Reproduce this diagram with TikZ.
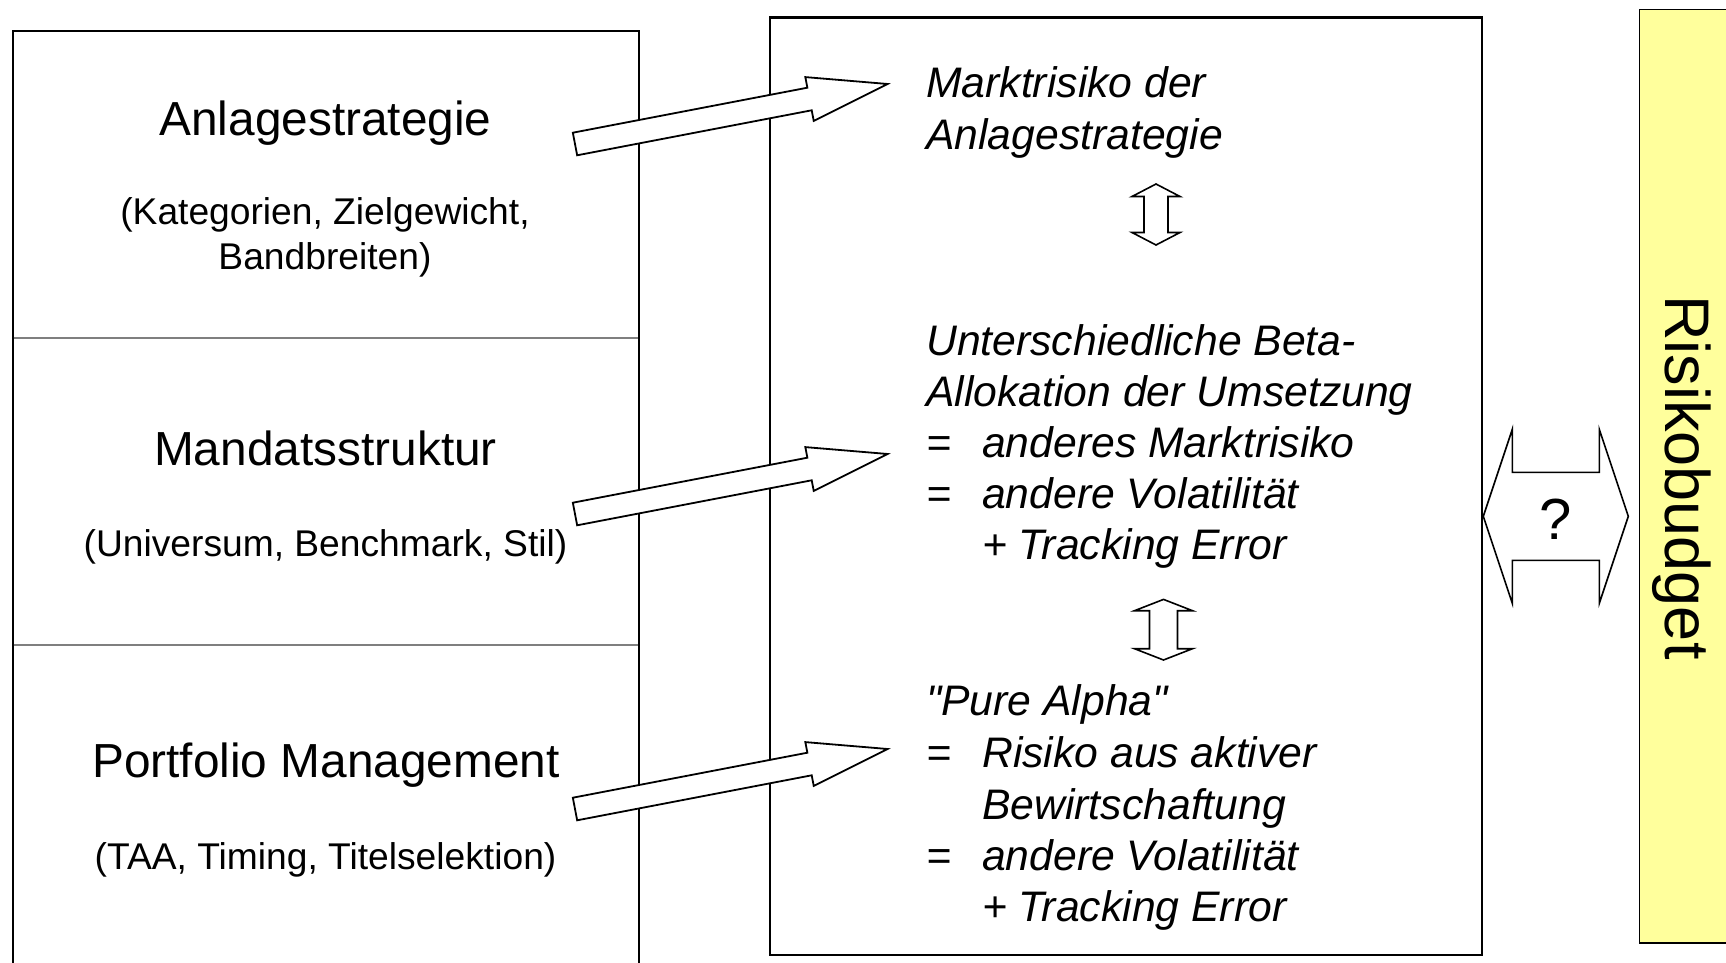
\documentclass[tikz,border=0pt]{standalone}
\usepackage{fontspec}
\setmainfont{Liberation Sans}[Ligatures=TeXOff]
\usetikzlibrary{calc}
\definecolor{budgetyellow}{HTML}{FFFF9C}
\definecolor{dividergray}{HTML}{7F7F7F}

% wide hollow arrow from a tail point to a tip point
\newcommand{\hollowarrow}[2]{%
  \coordinate (ha-m) at ($(#1)!0.75!(#2)$);
  \draw[barrow] ($(#1)!11.5pt!90:(#2)$) -- ($(ha-m)!11.5pt!90:(#2)$)
    -- ($(ha-m)!22.3pt!90:(#2)$) -- (#2) -- ($(ha-m)!22.3pt!-90:(#2)$)
    -- ($(ha-m)!11.5pt!-90:(#2)$) -- ($(#1)!11.5pt!-90:(#2)$) -- cycle;
}

\begin{document}
\begin{tikzpicture}[x=1pt,y=-1pt,
  frame/.style={draw=black, line width=2pt},
  divider/.style={draw=dividergray, line width=1.5pt},
  title/.style={font=\fontsize{47.8}{57}\selectfont, inner sep=0pt, anchor=base},
  sub/.style={font=\fontsize{37.2}{44}\selectfont, inner sep=0pt, anchor=base},
  riskline/.style={font=\fontsize{42.7}{51}\selectfont\itshape, inner sep=0pt, anchor=base west},
  barrow/.style={draw=black, fill=white, line width=1.8pt, line join=miter},
  dblarrow/.style={draw=black, fill=white, line width=1.6pt, line join=miter},
]
\useasboundingbox (0,0) rectangle (1726,963);
\clip (0,0) rectangle (1726,963);
\fill[white] (0,0) rectangle (1726,963);

% left column: strategy levels
\draw[frame] (12.5,980) -- (12.5,31) -- (638.5,31) -- (638.5,980);
\draw[divider] (13.5,338) -- (637.5,338);
\draw[divider] (13.5,645) -- (637.5,645);

\node[title] (strat) at (325.5,135.7) {Anlagestrategie};
\node[sub] (stratA) at (325,224.5) {(Kategorien, Zielgewicht,};
\node[sub] (stratB) at (325,269.5) {Bandbreiten)};

\node[title] (mand) at (325.5,465.6) {Mandatsstruktur};
\node[sub] (mandA) at (325.5,556) {(Universum, Benchmark, Stil)};

\node[title] (pm) at (326,777) {Portfolio Management};
\node[sub] (pmA) at (325.5,869.6) {(TAA, Timing, Titelselektion)};

% middle column: risk sources
\node[draw=black, line width=2.2pt, fill=white, inner sep=0pt, anchor=north west,
      minimum width=712pt, minimum height=937pt] (midbox) at (768.5,16.5) {};

\node[riskline] (r1a) at (926,98) {Marktrisiko der};
\node[riskline] (r1b) at (926,149.5) {Anlagestrategie};

\node[riskline] (r2a) at (926,355.5) {Unterschiedliche Beta-};
\node[riskline] (r2b) at (926,406.5) {Allokation der Umsetzung};
\node[riskline] (r2c) at (926,457.5) {=};
\node[riskline] (r2cc) at (982,457.5) {anderes Marktrisiko};
\node[riskline] (r2d) at (926,508.5) {=};
\node[riskline] (r2dd) at (982,508.5) {andere Volatilität};
\node[riskline] (r2e) at (982,559.5) {+ Tracking Error};

\node[riskline] (r3a) at (926,715.5) {"Pure Alpha"};
\node[riskline] (r3b) at (926,767) {=};
\node[riskline] (r3bb) at (982,767) {Risiko aus aktiver};
\node[riskline] (r3c) at (982,819) {Bewirtschaftung};
\node[riskline] (r3d) at (926,870.5) {=};
\node[riskline] (r3dd) at (982,870.5) {andere Volatilität};
\node[riskline] (r3e) at (982,921.5) {+ Tracking Error};

% arrows from the levels to their risk sources
\coordinate (a1s) at (575,144);   \coordinate (a1e) at (887.7,84);
\coordinate (a2s) at (575,514);   \coordinate (a2e) at (887.7,454);
\coordinate (a3s) at (575,809);   \coordinate (a3e) at (887.7,749);
\hollowarrow{a1s}{a1e}
\hollowarrow{a2s}{a2e}
\hollowarrow{a3s}{a3e}

% vertical double arrows between the risk groups
\coordinate (d1) at (1156,214.5);
\begin{scope}[shift={(d1)}]
  \draw[dblarrow] (0,-30.5) -- (24,-18) -- (12,-18) -- (12,18) -- (24,18) -- (0,30.5)
    -- (-24,18) -- (-12,18) -- (-12,-18) -- (-24,-18) -- cycle;
\end{scope}
\coordinate (d2) at (1163.5,629.7);
\begin{scope}[shift={(d2)}]
  \draw[dblarrow] (0,-30.3) -- (29,-19) -- (14,-19) -- (14,19) -- (29,19) -- (0,30.3)
    -- (-29,19) -- (-14,19) -- (-14,-19) -- (-29,-19) -- cycle;
\end{scope}

% risk budget bar
\node[draw=black, line width=1.5pt, fill=budgetyellow, inner sep=0pt, anchor=north west,
      minimum width=110pt, minimum height=933pt] (budget) at (1638.5,9) {};
\node[rotate=-90, anchor=base, inner sep=0pt, font=\fontsize{63}{75}\selectfont]
  (budgettext) at (1665,477.5) {Risikobudget};

% horizontal double arrow between risk sources and budget
\coordinate (q) at (1555.8,516.3);
\begin{scope}[shift={(q)}]
  \draw[dblarrow] (-72.5,0) -- (-43.5,-87) -- (-43.5,-44) -- (43.5,-44) -- (43.5,-87)
    -- (72.5,0) -- (43.5,87) -- (43.5,44) -- (-43.5,44) -- (-43.5,87) -- cycle;
\end{scope}
\node[anchor=base, inner sep=0pt, font=\fontsize{58}{70}\selectfont] (qm) at (1556,539) {?};
\end{tikzpicture}
\end{document}
